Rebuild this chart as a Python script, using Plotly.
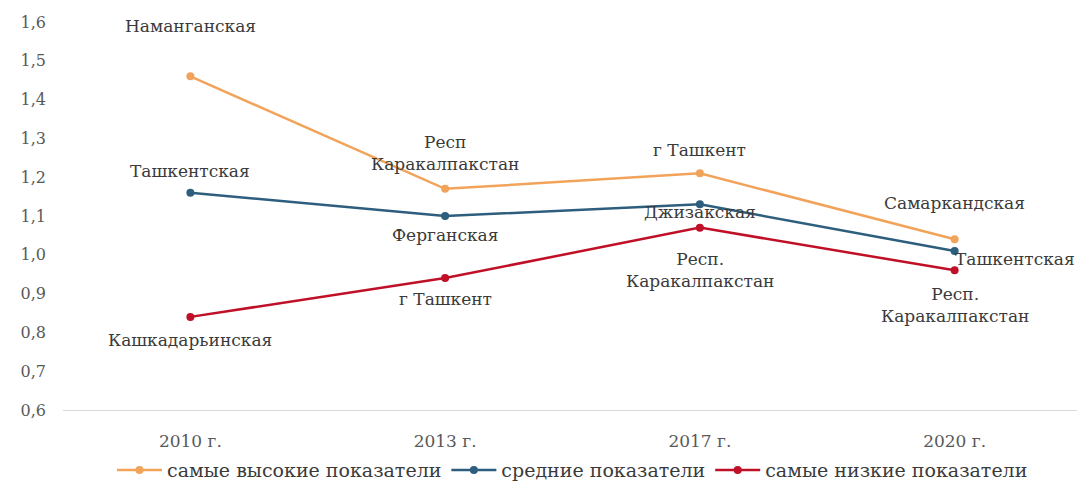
import plotly.graph_objects as go

years = ["2010 г.", "2013 г.", "2017 г.", "2020 г."]
series_names = ["самые высокие показатели", "средние показатели", "самые низкие показатели"]
high = [1.46, 1.17, 1.21, 1.04]
mid = [1.16, 1.10, 1.13, 1.01]
low = [0.84, 0.94, 1.07, 0.96]
high_labels = ["Наманганская", "Респ<br>Каракалпакстан", "г Ташкент", "Самаркандская"]
mid_labels = ["Ташкентская", "Ферганская", "Джизакская", "Ташкентская"]
low_labels = ["Кашкадарьинская", "г Ташкент", "Респ.<br>Каракалпакстан", "Респ.<br>Каракалпакстан"]
y_ticks = [0.6, 0.7, 0.8, 0.9, 1.0, 1.1, 1.2, 1.3, 1.4, 1.5, 1.6]

colors = ["#F2A35A", "#2E5E7E", "#C01028"]
# label offsets (px): (xshift, yshift)
offsets = [
    [(0, 50), (0, 36), (0, 23), (0, 36)],
    [(0, 22), (0, -19), (0, -8), (60, -8)],
    [(0, -23), (0, -21), (0, -42), (0, -35)],
]

FONT = "DejaVu Serif"
TXT = "#3A3A3A"

fig = go.Figure()
annotations = []
for name, vals, labels, col, offs in zip(series_names, [high, mid, low],
                                         [high_labels, mid_labels, low_labels],
                                         colors, offsets):
    fig.add_trace(go.Scatter(
        x=years, y=vals, name=name, mode="lines+markers",
        line=dict(color=col, width=2.5),
        marker=dict(color=col, size=8),
    ))
    for xv, yv, lab, (dx, dy) in zip(years, vals, labels, offs):
        annotations.append(dict(
            x=xv, y=yv, text=lab, showarrow=False, xshift=dx, yshift=dy,
            font=dict(family=FONT, size=17, color=TXT),
            xanchor="center", yanchor="middle",
        ))

fig.update_layout(
    width=1077, height=475,
    margin=dict(l=55, r=3, t=14, b=73),
    paper_bgcolor="white", plot_bgcolor="white",
    separators=", ",
    font=dict(family=FONT, size=17, color="#595959"),
    annotations=annotations,
    showlegend=True,
    legend=dict(orientation="h", x=0.5, xanchor="center",
                yref="container", y=0.027, yanchor="middle",
                font=dict(family=FONT, size=19, color=TXT),
                itemwidth=45, tracegroupgap=0),
    xaxis=dict(type="category", range=[-0.5, 3.5], showgrid=False, zeroline=False,
               showline=True, linecolor="#D9D9D9", linewidth=1, automargin=False,
               ticks="", ticklabelstandoff=16,
               tickfont=dict(family=FONT, size=17, color="#595959")),
    yaxis=dict(range=[0.6, 1.6], tickvals=y_ticks, tickformat=".1f",
               showgrid=False, zeroline=False, showline=False, automargin=False,
               ticks="", ticklabelstandoff=16,
               tickfont=dict(family=FONT, size=16, color="#595959")),
)

fig.write_html("out.html")
